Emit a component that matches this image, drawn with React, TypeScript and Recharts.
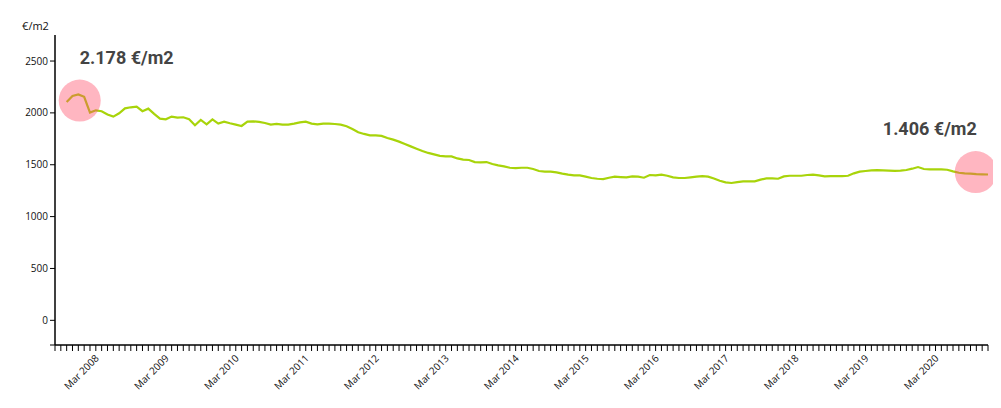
import { Line, LineChart, ReferenceDot, XAxis, YAxis } from "recharts";

// monthly index 0 = Jul 2007 (start of the axis); first price is Sep 2007
const firstIndex = 2;
const lastIndex = 160;

const prices = [
  2106, 2164, 2178, 2155, 2003, 2025, 2016, 1984, 1964, 1996, 2044, 2054, 2061, 2016, 2041, 1990,
  1945, 1938, 1964, 1955, 1958, 1938, 1880, 1932, 1890, 1938, 1897, 1916, 1900, 1887, 1874, 1916,
  1919, 1913, 1903, 1887, 1894, 1887, 1887, 1897, 1909, 1916, 1897, 1890, 1897, 1897, 1893, 1887,
  1871, 1845, 1813, 1797, 1784, 1784, 1778, 1758, 1742, 1723, 1700, 1677, 1655, 1633, 1614, 1600,
  1585, 1581, 1581, 1561, 1549, 1546, 1526, 1523, 1526, 1507, 1494, 1484, 1471, 1468, 1471, 1471,
  1459, 1440, 1433, 1433, 1426, 1414, 1404, 1397, 1397, 1385, 1372, 1365, 1362, 1375, 1385, 1381,
  1378, 1388, 1385, 1375, 1401, 1397, 1404, 1394, 1378, 1372, 1372, 1378, 1385, 1391, 1385, 1368,
  1346, 1330, 1324, 1333, 1340, 1340, 1340, 1356, 1368, 1368, 1365, 1388, 1394, 1394, 1394, 1401,
  1404, 1397, 1388, 1391, 1391, 1391, 1394, 1417, 1433, 1440, 1446, 1449, 1446, 1443, 1440, 1443,
  1449, 1462, 1478, 1459, 1456, 1456, 1456, 1452, 1436, 1423, 1417, 1414, 1410, 1408, 1406,
];

// "Mar YYYY" labels sit on index 8, 20, 32, ...
const marchLabels = [
  "Mar 2008", "Mar 2009", "Mar 2010", "Mar 2011", "Mar 2012", "Mar 2013", "Mar 2014",
  "Mar 2015", "Mar 2016", "Mar 2017", "Mar 2018", "Mar 2019", "Mar 2020",
];
const firstMarch = 8;

const yTicks = [-238, 0, 500, 1000, 1500, 2000, 2500];

// highlight circles + callouts
const highlightX = [4.24, 157.9];
const highlightY = [2119, 1429];
const highlightText = ["2.178 €/m2", "1.406 €/m2"];
const highlightAnchor = ["start", "end"];

const data = prices.map((price, k) => ({ t: firstIndex + k, price }));
const monthTicks = Array.from({ length: lastIndex + 1 }, (_, i) => i);

const MonthTick = ({ x, y, payload }: any) => {
  const j = (payload.value - firstMarch) / 12;
  const label = Number.isInteger(j) ? marchLabels[j] : undefined;
  if (!label) return null;
  return (
    <text
      transform={`translate(${x - 2},${y + 6}) rotate(-45)`}
      textAnchor="end"
      fontSize={10}
      fontFamily="'Open Sans', sans-serif"
      fill="#111"
    >
      {label}
    </text>
  );
};

// translucent pink circle over the line, plus the value callout
const makeCallout = (idx: number) => (props: any) => {
  const { cx, cy } = props;
  return (
    <g>
      <circle cx={cx} cy={cy} r={21} fill="#ff4864" fillOpacity={0.4} />
      <text
        x={idx === 0 ? cx : cx + 1}
        y={cy - 37}
        textAnchor={highlightAnchor[idx]}
        fontSize={18}
        fontWeight="bold"
        fontFamily="Roboto, sans-serif"
        fill="#444"
      >
        {highlightText[idx]}
      </text>
    </g>
  );
};

export default function App() {
  return (
    <LineChart width={990} height={400} data={data} margin={{ top: 27, right: 10, left: 0, bottom: 0 }}>
      <XAxis
        dataKey="t"
        type="number"
        domain={[0, lastIndex]}
        ticks={monthTicks}
        interval={0}
        tick={<MonthTick />}
        tickSize={6}
        height={63}
        axisLine={{ stroke: "#000", strokeWidth: 1.5 }}
        tickLine={{ stroke: "#000" }}
      />
      <YAxis
        type="number"
        domain={[-238, 2751]}
        ticks={yTicks}
        width={47}
        tickSize={5}
        tickMargin={2}
        tickFormatter={(v: number) => (v < 0 ? "" : String(v))}
        tick={{ fontSize: 10, fill: "#111", fontFamily: "'Open Sans', sans-serif" }}
        axisLine={{ stroke: "#000", strokeWidth: 1.5 }}
        tickLine={{ stroke: "#000" }}
        label={{ value: "€/m2", position: "top", offset: 5, fontSize: 11, fill: "#111", fontFamily: "'Open Sans', sans-serif", dx: 4 }}
      />
      <Line
        type="linear"
        dataKey="price"
        stroke="#a8d40a"
        strokeWidth={2.2}
        dot={false}
        isAnimationActive={false}
      />
      {highlightX.map((hx, idx) => (
        <ReferenceDot
          key={idx}
          x={hx}
          y={highlightY[idx]}
          r={21}
          ifOverflow="visible"
          shape={makeCallout(idx)}
        />
      ))}
    </LineChart>
  );
}
